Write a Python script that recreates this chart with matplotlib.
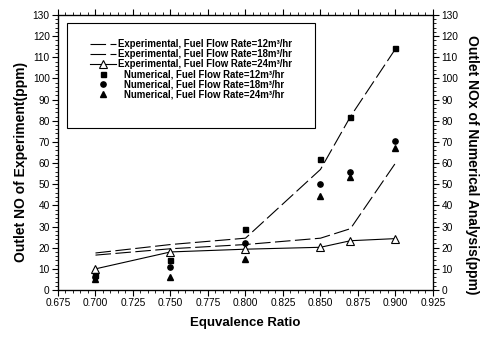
import matplotlib.pyplot as plt
from matplotlib.patches import Rectangle
from matplotlib.ticker import MultipleLocator, FormatStrFormatter

plt.rcParams['font.family'] = ['Liberation Sans', 'DejaVu Sans']

# equivalence ratios of the measurements / simulations
phi = [0.70, 0.75, 0.80, 0.85, 0.87, 0.90]

# experimental outlet NO (ppm)
exp_12 = [17.5, 21.5, 24.5, 57, 82, 114]
exp_18 = [16.5, 19.5, 21.5, 24.5, 29, 60]
exp_24 = [10, 18, 19.3, 20.2, 23.3, 24.3]

# numerical outlet NOx (ppm)
num_12 = [7, 14, 29, 62, 82, 114.5]
num_18 = [6, 11, 22, 50, 56, 70.5]
num_24 = [5, 6, 14.5, 44.5, 53.5, 67]

exp_labels = [
    'Experimental, Fuel Flow Rate=12m³/hr',
    'Experimental, Fuel Flow Rate=18m³/hr',
    'Experimental, Fuel Flow Rate=24m³/hr',
]
num_labels = [
    'Numerical, Fuel Flow Rate=12m³/hr',
    'Numerical, Fuel Flow Rate=18m³/hr',
    'Numerical, Fuel Flow Rate=24m³/hr',
]

fig = plt.figure(figsize=(4.82, 3.39), dpi=100)
ax = fig.add_axes([0.1203, 0.1445, 0.778, 0.8113])

e1, = ax.plot(phi, exp_12, color='black', lw=0.8, dashes=(14, 4))
e2, = ax.plot(phi, exp_18, color='black', lw=0.8, dashes=(14, 4))
e3, = ax.plot(phi, exp_24, color='black', lw=0.8, marker='^', ms=5.5,
              mfc='white', mec='black', mew=0.8)
n1, = ax.plot(phi, num_12, ls='none', marker='s', ms=3.6, color='black')
n2, = ax.plot(phi, num_18, ls='none', marker='o', ms=3.8, color='black')
n3, = ax.plot(phi, num_24, ls='none', marker='^', ms=4.3, color='black')

ax.set_xlim(0.675, 0.925)
ax.set_ylim(0, 130)
ax.xaxis.set_major_locator(MultipleLocator(0.025))
ax.xaxis.set_minor_locator(MultipleLocator(0.005))
ax.xaxis.set_major_formatter(FormatStrFormatter('%.3f'))
ax.yaxis.set_major_locator(MultipleLocator(10))
ax.yaxis.set_minor_locator(MultipleLocator(2))

ax.tick_params(which='major', direction='out', length=4, width=0.8, labelsize=7.3, pad=2)
ax.tick_params(which='minor', direction='out', length=2, width=0.6)
ax.tick_params(axis='x', top=True, which='both')

ax.set_xlabel('Equvalence Ratio', fontsize=9.5, fontweight='bold', labelpad=6)
ax.set_ylabel('Outlet NO of Experiment(ppm)', fontsize=10, fontweight='bold')
ax.yaxis.set_label_coords(-0.08, 0.465)

for s in ax.spines.values():
    s.set_linewidth(0.9)

ax2 = ax.twinx()
ax2.set_ylim(0, 130)
ax2.yaxis.set_major_locator(MultipleLocator(10))
ax2.yaxis.set_minor_locator(MultipleLocator(2))
ax2.tick_params(which='major', direction='out', length=4, width=0.8, labelsize=7.3, pad=2)
ax2.tick_params(which='minor', direction='out', length=2, width=0.6)
ax2.set_ylabel('Outlet NOx of Numerical Analysis(ppm)', fontsize=10,
               fontweight='bold', rotation=270, va='center')
ax2.yaxis.set_label_coords(1.105, 0.455)

# legend frame, then the two groups of entries inside it
ax.add_patch(Rectangle((0.023, 0.588), 0.662, 0.382, transform=ax.transAxes,
                       fill=False, lw=0.8, ec='black', zorder=5))

leg_kw = dict(frameon=False, borderpad=0, borderaxespad=0, labelspacing=0.0,
              prop={'weight': 'bold', 'size': 6.9})
leg1 = ax.legend([e1, e2, e3], exp_labels, loc='upper left',
                 bbox_to_anchor=(0.085, 0.913), handlelength=2.7,
                 handletextpad=0.25, **leg_kw)
ax.add_artist(leg1)
ax.legend([n1, n2, n3], num_labels, loc='upper left',
          bbox_to_anchor=(0.105, 0.802), handlelength=1.2,
          handletextpad=1.55, **leg_kw)

fig.savefig('out.png', dpi=100)
